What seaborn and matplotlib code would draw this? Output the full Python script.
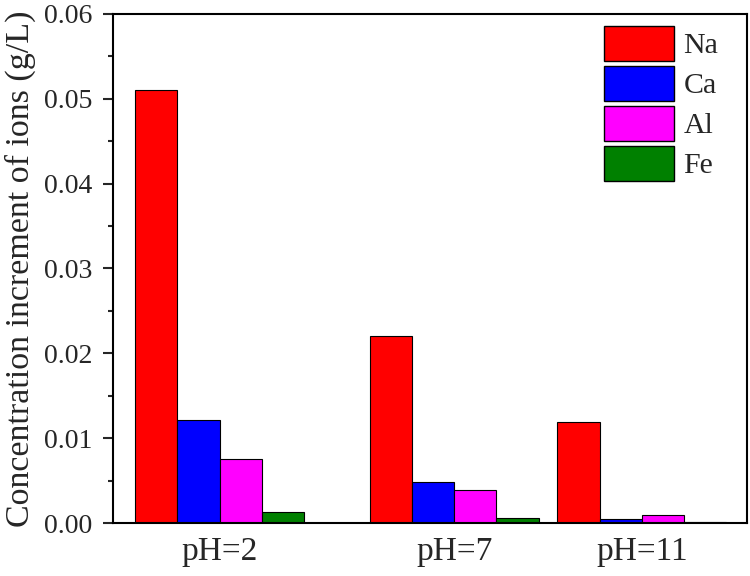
import matplotlib
matplotlib.use("Agg")
import matplotlib.pyplot as plt
import seaborn as sns
import pandas as pd
from matplotlib.patches import Patch
from matplotlib.ticker import MultipleLocator

ph_values = [2, 7, 11]
tick_labels = ["pH=2", "pH=7", "pH=11"]
ions = ["Na", "Ca", "Al", "Fe"]
na = [0.0510, 0.0220, 0.0119]
ca = [0.0121, 0.0048, 0.0005]
al = [0.0076, 0.0039, 0.0010]
fe = [0.0013, 0.00055, 0.00015]
colors = ["#ff0000", "#0000ff", "#ff00ff", "#008000"]

rows = []
for ion, vals in zip(ions, [na, ca, al, fe]):
    for p, v in zip(ph_values, vals):
        rows.append({"pH": p, "Ion": ion, "value": v})
df = pd.DataFrame(rows)

sns.set_style("ticks")
plt.rcParams["font.family"] = ["Liberation Serif", "DejaVu Serif"]

fig = plt.figure(figsize=(7.5, 5.76), dpi=100)
ax = fig.add_axes([0.1507, 0.092, 0.8453, 0.8838])

sns.barplot(data=df, x="pH", y="value", hue="Ion", hue_order=ions,
            palette=colors, native_scale=True, width=0.9,
            edgecolor="black", linewidth=0.8, saturation=1, ax=ax,
            legend=False, errorbar=None)

ax.set_xlim(-0.27, 13.24)
ax.set_ylim(0, 0.06)
ax.set_xticks(ph_values)
ax.set_xticklabels(tick_labels)
ax.yaxis.set_major_locator(MultipleLocator(0.01))
ax.yaxis.set_minor_locator(MultipleLocator(0.005))
ax.set_yticklabels([f"{v:.2f}" for v in ax.get_yticks()])
ax.tick_params(axis="x", length=0, pad=10, labelsize=24)
ax.tick_params(axis="y", which="major", direction="out", length=7, width=1.5, labelsize=20, pad=8)
ax.tick_params(axis="y", which="minor", direction="out", length=3.6, width=1.5)
for s in ax.spines.values():
    s.set_visible(True)
    s.set_linewidth(1.5)
    s.set_color("black")
ax.set_xlabel("")
ax.set_ylabel("Concentration increment of ions (g/L)", fontsize=24.5)
ax.yaxis.set_label_coords(-0.122, 0.5)

handles = [Patch(facecolor=c, edgecolor="black", linewidth=1.0, label=l) for c, l in zip(colors, ions)]
ax.legend(handles=handles, loc="upper right", bbox_to_anchor=(0.9876, 1.0175),
          frameon=False, fontsize=21.5, handlelength=2.35, handleheight=1.42,
          labelspacing=0.17, handletextpad=0.3, borderpad=0.2)

fig.savefig("out.png", dpi=100)
